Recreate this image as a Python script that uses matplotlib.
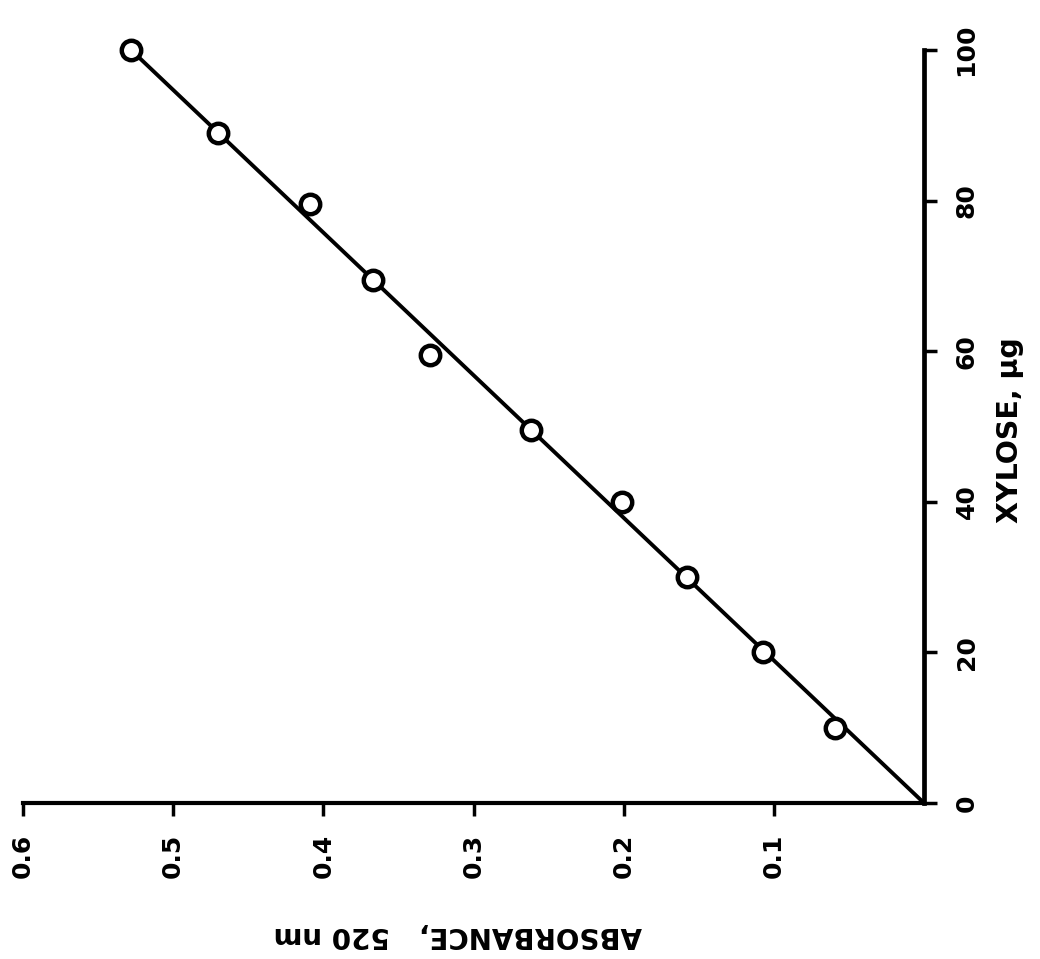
import matplotlib
matplotlib.use("Agg")
import matplotlib.pyplot as plt

# readings taken off the scanned calibration plot
xylose_ug = [10, 20, 30, 40, 49.5, 59.5, 69.5, 79.5, 89, 100]
absorbance = [0.059, 0.107, 0.158, 0.201, 0.262, 0.329, 0.367, 0.409, 0.470, 0.528]

# fitted line through the origin
line_xylose = [0, 100]
line_abs = [0, 0.528]

abs_ticks = [0.1, 0.2, 0.3, 0.4, 0.5, 0.6]
abs_labels = ["0.1", "0.2", "0.3", "0.4", "0.5", "0.6"]
xyl_ticks = [0, 20, 40, 60, 80, 100]
xyl_labels = ["0", "20", "40", "60", "80", "100"]

plt.rcParams["font.family"] = "DejaVu Sans"
plt.rcParams["font.weight"] = "bold"

fig = plt.figure(figsize=(10.4, 9.59), dpi=100)
# the page is turned on its side: absorbance runs right-to-left along the bottom,
# xylose runs bottom-to-top along the right
ax = fig.add_axes([23 / 1040, 1 - 803 / 959, (924 - 23) / 1040, (803 - 50) / 959])

ax.plot(line_abs, line_xylose, color="black", lw=2.8, zorder=2, clip_on=False)
ax.plot(absorbance, xylose_ug, "o", ms=14, mfc="white", mec="black", mew=3.2,
        zorder=3, clip_on=False)

ax.set_xlim(0.6, 0)
ax.set_ylim(0, 100)

for side in ["left", "top"]:
    ax.spines[side].set_visible(False)
ax.spines["bottom"].set_linewidth(3)
ax.spines["right"].set_linewidth(3.4)

ax.set_xticks(abs_ticks)
ax.set_xticklabels(abs_labels, rotation=90, fontsize=18, fontweight="bold")
ax.tick_params(axis="x", direction="out", length=9, width=2.5, pad=13)

ax.yaxis.tick_right()
ax.set_yticks(xyl_ticks)
ax.set_yticklabels(xyl_labels, rotation=90, va="center", fontsize=18, fontweight="bold")
ax.tick_params(axis="y", direction="out", length=9, width=2.5, pad=13)

# axis titles, turned with the page
fig.text(458 / 1040, 1 - 935 / 959, "ABSORBANCE,   520 nm", rotation=180,
         ha="center", va="center", fontsize=20, fontweight="bold")
fig.text(1010 / 1040, 1 - 430 / 959, "XYLOSE, µg", rotation=90,
         ha="center", va="center", fontsize=20.5, fontweight="bold")

fig.savefig("out.png", dpi=100, facecolor="white")
